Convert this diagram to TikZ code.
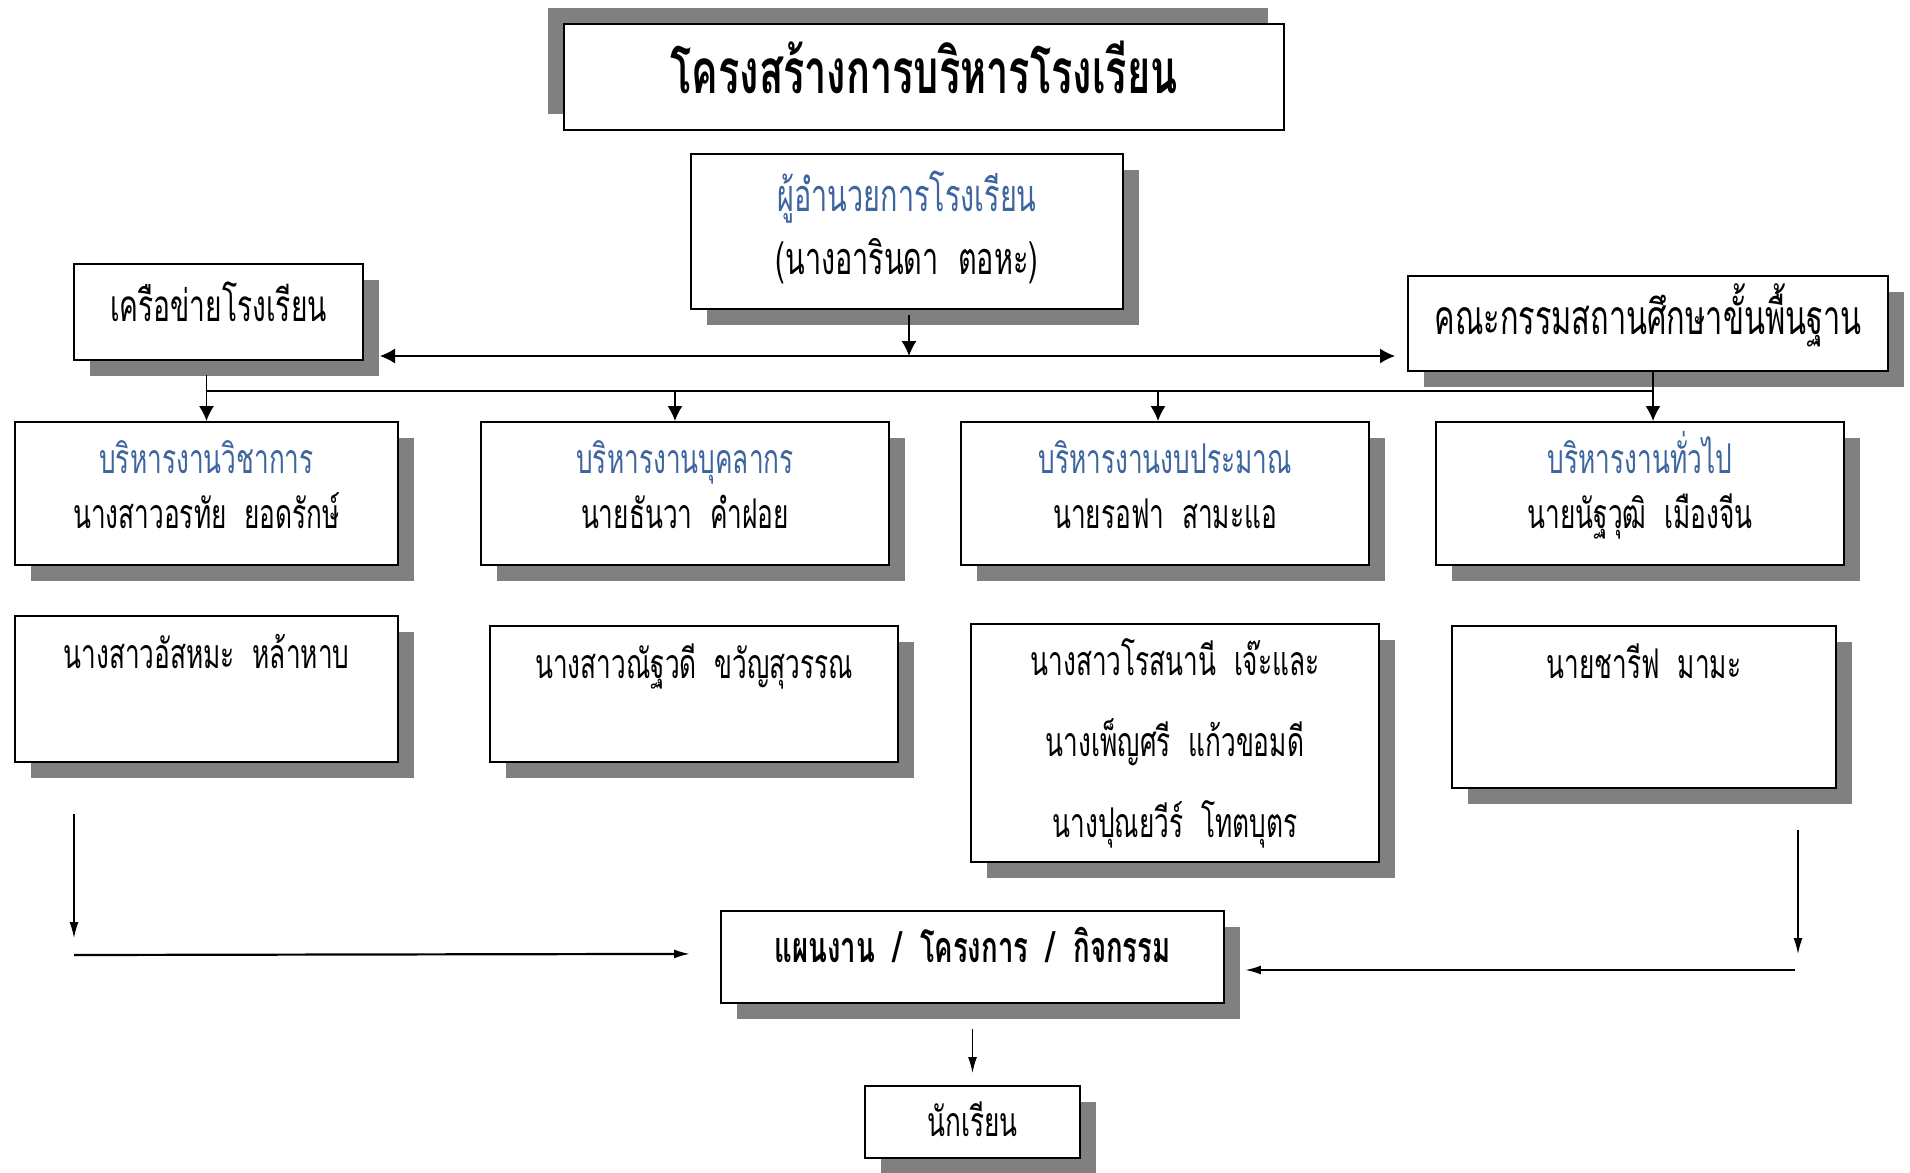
\documentclass[tikz,border=0pt]{standalone}
\usepackage{fontspec}
\setmainfont[Script=Thai, FakeStretch=0.64]{Loma}
\usepackage{tikz}
\usetikzlibrary{arrows.meta, shadows, positioning}
\definecolor{bleu}{HTML}{3D65A0}
\definecolor{ombre}{HTML}{808080}
\tikzstyle{cadre} = [rectangle, draw = black, line width = 1.8pt, fill = white, align = center, inner sep = 0pt, font = \fontsize{41}{55}\selectfont]
\tikzstyle{boite} = [cadre, drop shadow = {shadow xshift = 16pt, shadow yshift = -16pt, fill = ombre, opacity = 1}]
\tikzstyle{fleche} = [line width = 1.4pt, -{Latex[length = 15pt, width = 15pt]}]
\tikzstyle{flechefine} = [line width = 1.4pt, -{Latex[length = 16pt, width = 9pt]}]

\begin{document}
\begin{tikzpicture}[x = 1pt, y = -1pt]
\useasboundingbox (0,0) rectangle (1910,1172);
\node (titre) [cadre, minimum width = 720, anchor = north, text height = 70, text depth = 36, font = \fontsize{62}{70}\selectfont\bfseries, drop shadow = {shadow xshift = -16pt, shadow yshift = 16pt, fill = ombre, opacity = 1}] at (924,23) {โครงสร้างการบริหารโรงเรียน};
\node (directeur) [boite, minimum width = 432, anchor = north, text height = 120.5, text depth = 34.5, font = \fontsize{45}{63}\selectfont] at (907,153) {\textcolor{bleu}{ผู้อำนวยการโรงเรียน}\\(นางอารินดา~~ตอหะ)};
\node (reseau) [boite, minimum width = 289, anchor = north, text height = 57.5, text depth = 38.5, font = \fontsize{44}{55}\selectfont] at (218.5,263) {เครือข่ายโรงเรียน};
\node (comite) [boite, minimum width = 480, anchor = north, text height = 58.5, text depth = 36.5, font = \fontsize{48}{55}\selectfont] at (1648,275) {คณะกรรมสถานศึกษาขั้นพื้นฐาน};

\node (b1) [boite, minimum width = 383, anchor = north, text height = 106.5, text depth = 36.5] at (206.5,421) {\textcolor{bleu}{บริหารงานวิชาการ}\\นางสาวอรทัย~~ยอดรักษ์};
\node (b2) [boite, minimum width = 408, anchor = north, text height = 106.5, text depth = 36.5] at (685,421) {\textcolor{bleu}{บริหารงานบุคลากร}\\นายธันวา~~คำฝอย};
\node (b3) [boite, minimum width = 408, anchor = north, text height = 106.5, text depth = 36.5] at (1165,421) {\textcolor{bleu}{บริหารงานงบประมาณ}\\นายรอฟา~~สามะแอ};
\node (b4) [boite, minimum width = 408, anchor = north, text height = 106.5, text depth = 36.5] at (1640,421) {\textcolor{bleu}{บริหารงานทั่วไป}\\นายนัฐวุฒิ~~เมืองจีน};

\node (c1) [boite, minimum width = 383, anchor = north, text height = 52.5, text depth = 93.5] at (206.5,615) {นางสาวอัสหมะ~~หล้าหาบ};
\node (c2) [boite, minimum width = 408, anchor = north, text height = 52.5, text depth = 83.5] at (694,625) {นางสาวณัฐวดี~~ขวัญสุวรรณ};
\node (c3) [boite, minimum width = 408, minimum height = 238, font = \fontsize{41}{81}\selectfont] at (1175,743) {นางสาวโรสนานี~~เจ๊ะและ\\นางเพ็ญศรี~~แก้วขอมดี\\นางปุณยวีร์~~โทตบุตร};
\node (c4) [boite, minimum width = 384, anchor = north, text height = 52.5, text depth = 109.5] at (1644,625) {นายชารีฟ~~มามะ};

\node (plan) [boite, minimum width = 503, anchor = north, text height = 51.6, text depth = 40.4, font = \fontsize{43}{50}\selectfont\bfseries] at (972.5,910) {แผนงาน~~/~~โครงการ~~/~~กิจกรรม};
\node (eleve) [boite, minimum width = 215, anchor = north, text height = 50.5, text depth = 21.5] at (972.5,1085) {นักเรียน};

\coordinate (gauche) at (380,356);
\coordinate (droite) at (1395,356);
\coordinate (milieu) at (909,356);
\coordinate (bus1) at (206,391);
\coordinate (bus4) at (1653,391);
\draw[line width = 1.4pt, {Latex[length = 15pt, width = 15pt]}-{Latex[length = 15pt, width = 15pt]}] (gauche) -- (droite);
\draw[fleche] ([xshift = 2pt, yshift = -5pt]directeur.south) -- (milieu);
\draw[line width = 1.4pt] (bus1) -- (bus4);
\draw[fleche] ([yshift = -14pt]reseau.south -| b1.north) -- (b1.north);
\draw[fleche] (bus1 -| 675,0) -- ([xshift = -10pt]b2.north);
\draw[fleche] (bus1 -| 1158,0) -- ([xshift = -7pt]b3.north);
\draw[fleche] ([xshift = 5pt]comite.south) -- ([xshift = 13pt]b4.north);

\coordinate (hg) at (74,814);
\coordinate (bg) at (74,938);
\coordinate (lg) at (74,955);
\coordinate (hd) at (1798,830);
\coordinate (bd) at (1798,954);
\coordinate (ld) at (1795,970);
\draw[flechefine] (hg) -- (bg);
\draw[flechefine, line width = 2.2pt] (lg) -- ([xshift = -30pt, yshift = 3pt]plan.west);
\draw[flechefine] (hd) -- (bd);
\draw[flechefine, line width = 2.2pt] (ld) -- ([xshift = 20pt]plan.east |- ld);
\draw[flechefine] ([yshift = -25pt]plan.south) -- ([yshift = 12pt]eleve.north);
\end{tikzpicture}
\end{document}
